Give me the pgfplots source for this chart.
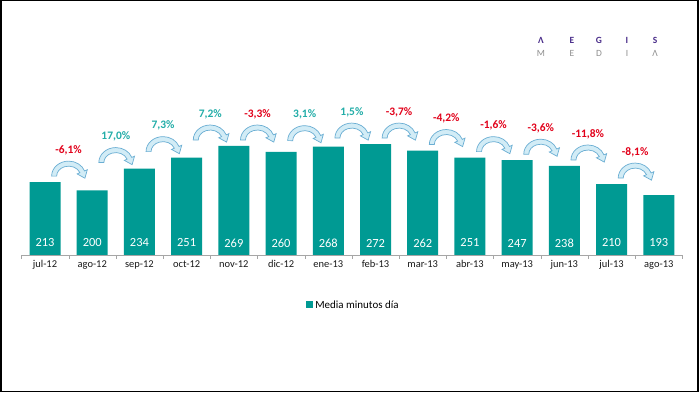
\documentclass[border=0pt]{standalone}
\usepackage{pgfplots}
\pgfplotsset{compat=1.18}
\usepackage{pgfplotstable}
\usepackage{fontspec}
\setmainfont{Carlito}
\definecolor{barteal}{HTML}{009A93}
\definecolor{posteal}{HTML}{22ADA8}
\definecolor{negred}{HTML}{E2001A}
\definecolor{arrfill}{HTML}{D2ECF6}
\definecolor{arrdraw}{HTML}{6AAED3}
\definecolor{logopurple}{HTML}{4A2D8A}
\definecolor{logogray}{HTML}{8F8F8F}

\pgfdeclareplotmark{carrow}{%
  \pgfpathmoveto{\pgfqpoint{-17bp}{6bp}}%
  \pgfpatharc{180}{20}{17bp and 15bp}%
  \pgfpathlineto{\pgfqpoint{18.7bp}{12.4bp}}%
  \pgfpathlineto{\pgfqpoint{16.3bp}{3.9bp}}%
  \pgfpathlineto{\pgfqpoint{8.5bp}{8.2bp}}%
  \pgfpathlineto{\pgfqpoint{11.3bp}{9.4bp}}%
  \pgfpatharc{20}{180}{12bp and 10bp}%
  \pgfpathclose
  \pgfusepathqfillstroke
}

\pgfplotstableread{
i v
0 213
1 200
2 234
3 251
4 269
5 260
6 268
7 272
8 262
9 251
10 247
11 238
12 210
13 193
}\bars

\pgfplotstableread{
x m
0.5 213
1.5 234
2.5 251
3.5 269
4.5 269
5.5 268
6.5 272
7.5 272
8.5 262
9.5 251
10.5 247
11.5 238
12.5 210
}\arrows

\pgfplotstableread{
x m p
1.5 234 17,0
2.5 251 7,3
3.5 269 7,2
5.5 268 3,1
6.5 272 1,5
}\up

\pgfplotstableread{
x m p
0.5 213 -6,1
4.5 269 -3,3
7.5 272 -3,7
8.5 262 -4,2
9.5 251 -1,6
10.5 247 -3,6
11.5 238 -11,8
12.5 210 -8,1
}\down

\begin{document}
\begin{tikzpicture}
\useasboundingbox (0bp,0bp) rectangle (700bp,393bp);
\fill[white] (0bp,0bp) rectangle (700bp,393bp);
\draw[black, line width=1.5bp] (0.75bp,392.25bp) -- (0.75bp,1.5bp) -- (698bp,1.5bp) -- (698bp,392.25bp) -- cycle;
% logo
\foreach \xx/\ll in {541/Λ,572/E,599/G,627/I,655/S}
  \node[font=\fontsize{9.5}{9.5}\selectfont\bfseries, text=logopurple, inner sep=0] at (\xx bp,353bp) {\ll};
\foreach \xx/\ll in {541/M,572/E,599/D,627/I,655/Λ}
  \node[font=\fontsize{9.5}{9.5}\selectfont, text=logogray, inner sep=0] at (\xx bp,340bp) {\ll};
\begin{axis}[
  at={(21.4bp,138bp)}, anchor=south west, scale only axis,
  width=661bp, height=154.8bp,
  xmin=-0.5, xmax=13.5, ymin=0, ymax=240,
  axis y line=none, axis x line*=bottom,
  x axis line style={draw=gray!70},
  clip=false,
  xtick={0,...,13},
  xticklabels={jul-12,ago-12,sep-12,oct-12,nov-12,dic-12,ene-13,feb-13,mar-13,abr-13,may-13,jun-13,jul-13,ago-13},
  major tick length=0pt,
  minor xtick={-0.5,0.5,...,13.5},
  minor tick length=4bp,
  tick align=outside,
  minor tick style={draw=gray!70},
  xticklabel style={font=\fontsize{10.5}{11}\selectfont, text=black!90, yshift=-2bp},
  legend style={at={(0.502,-0.323)}, anchor=center, draw=none, fill=none,
    font=\fontsize{11}{12}\selectfont, inner sep=1bp},
  legend image code/.code={\fill[barteal] (0bp,-3.5bp) rectangle (7.5bp,3.5bp);},
]
\addplot[ybar, bar width=31bp, fill=barteal, draw=none]
  table[x=i, y expr=\thisrow{v}-100] {\bars};
\addlegendentry{Media minutos día}
\addplot[forget plot, only marks, mark=none, point meta=explicit symbolic,
  nodes near coords={\pgfplotspointmeta},
  every node near coord/.style={anchor=center, yshift=12bp, text=white,
    font=\fontsize{12.5}{13}\selectfont}]
  table[x=i, y expr=0, meta=v] {\bars};
\addplot[forget plot, only marks, mark=carrow,
  mark options={fill=arrfill, draw=arrdraw, line width=0.7bp}]
  table[x=x, y expr=\thisrow{m}-100] {\arrows};
\addplot[forget plot, only marks, mark=none, point meta=explicit symbolic,
  nodes near coords={\pgfplotspointmeta\%},
  every node near coord/.style={anchor=center, yshift=32bp, text=posteal,
    font=\fontsize{11.5}{12}\selectfont\bfseries}]
  table[x=x, y expr=\thisrow{m}-100, meta=p] {\up};
\addplot[forget plot, only marks, mark=none, point meta=explicit symbolic,
  nodes near coords={\pgfplotspointmeta\%},
  every node near coord/.style={anchor=center, yshift=32bp, text=negred,
    font=\fontsize{11.5}{12}\selectfont\bfseries}]
  table[x=x, y expr=\thisrow{m}-100, meta=p] {\down};
\end{axis}
\end{tikzpicture}
\end{document}
